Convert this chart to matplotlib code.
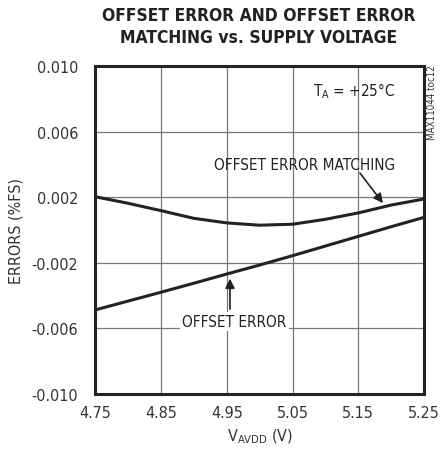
import matplotlib
matplotlib.use("Agg")
import matplotlib.pyplot as plt

plt.rcParams['font.family'] = ['DejaVu Sans']
plt.rcParams['font.stretch'] = 'condensed'
plt.rcParams['mathtext.fontset'] = 'custom'
plt.rcParams['mathtext.rm'] = 'DejaVu Sans:stretch=condensed'

# supply voltage (V)
voltaje = [4.75, 4.80, 4.85, 4.90, 4.95, 5.00, 5.05, 5.10, 5.15, 5.20, 5.25]
# offset error matching (%FS)
matching = [0.00203, 0.00163, 0.00118, 0.00071, 0.00043, 0.00029, 0.00035, 0.00065, 0.00104, 0.00152, 0.00189]
# offset error (%FS)
offset = [-0.00488, -0.00434, -0.00380, -0.00325, -0.00269, -0.00214, -0.00157, -0.00098, -0.00039, 0.0002, 0.00077]

xticks = [4.75, 4.85, 4.95, 5.05, 5.15, 5.25]
yticks = [-0.010, -0.006, -0.002, 0.002, 0.006, 0.010]

fig = plt.figure(figsize=(4.4, 4.56), dpi=100)
ax = fig.add_axes([0.216, 0.134, 0.748, 0.719])

ax.plot(voltaje, matching, color='#222222', lw=2.2, solid_capstyle='butt')
ax.plot(voltaje, offset, color='#222222', lw=2.2, solid_capstyle='butt')

ax.set_xlim(4.75, 5.25)
ax.set_ylim(-0.010, 0.010)
ax.set_xticks(xticks)
ax.set_yticks(yticks)
ax.set_xticklabels(['%.2f' % v for v in xticks])
ax.set_yticklabels(['%.3f' % v for v in yticks])
ax.tick_params(length=0, labelsize=11.5, colors='#333333')
ax.tick_params(axis='x', pad=8)
ax.tick_params(axis='y', pad=12)
ax.grid(True, color='#777777', lw=0.9)
for s in ax.spines.values():
    s.set_linewidth(2.2)
    s.set_color('#222222')

ax.set_xlabel(r'V$_{\mathregular{AVDD}}$ (V)', fontsize=11.5, color='#333333', labelpad=5)
ax.set_ylabel('ERRORS (%FS)', fontsize=11.5, color='#333333', labelpad=6)

fig.text(0.587, 0.985, 'OFFSET ERROR AND OFFSET ERROR\nMATCHING vs. SUPPLY VOLTAGE',
         ha='center', va='top', fontsize=12.5, fontweight='bold', color='#222222', linespacing=1.3)

ax.text(5.206, 0.0085, r'T$_{\mathregular{A}}$ = +25°C', ha='right', va='center', fontsize=11, color='#222222')

ax.text(5.068, 0.0040, 'OFFSET ERROR MATCHING', ha='center', va='center', fontsize=11, color='#222222')
ax.annotate('', xy=(5.19, 0.0015), xytext=(5.15, 0.0036),
            arrowprops=dict(arrowstyle='-|>', color='#222222', lw=1.2, mutation_scale=14))

ax.text(4.962, -0.0056, 'OFFSET ERROR', ha='center', va='center', fontsize=11, color='#222222',
        bbox=dict(facecolor='white', edgecolor='none', pad=1.5))
ax.annotate('', xy=(4.955, -0.0028), xytext=(4.955, -0.0050),
            arrowprops=dict(arrowstyle='-|>', color='#222222', lw=1.2, mutation_scale=14))

fig.text(0.982, 0.857, 'MAX11044 toc12', rotation=90, ha='center', va='top', fontsize=7, color='#333333')

fig.savefig('out.png', dpi=100)
